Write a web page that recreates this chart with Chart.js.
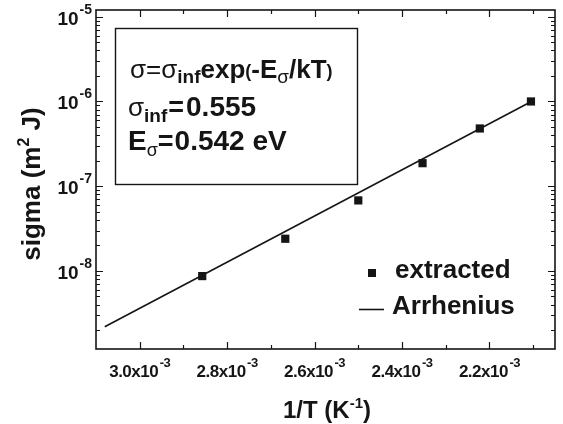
<!DOCTYPE html>
<html><head><meta charset="utf-8">
<script src="https://cdn.jsdelivr.net/npm/chart.js@4/dist/chart.umd.min.js"></script>
<style>html,body{margin:0;padding:0;background:#fff}#wrap{width:563px;height:424px}</style>
</head><body><div id="wrap"><canvas id="c" width="563" height="424"></canvas></div>
<script>
// ---- data ----
const invT = [2.857e-3, 2.667e-3, 2.500e-3, 2.353e-3, 2.222e-3, 2.105e-3];   // 1/T (K^-1)
const sigmaExtracted = [8.7e-9, 2.4e-8, 6.8e-8, 1.87e-7, 4.8e-7, 1.0e-6];   // sigma (m^2 J)
const arrheniusInvT = [3.08e-3, 2.105e-3];
const arrheniusSigma = [2.2e-9, 9.9e-7];
const xMajorTicks = [3.0e-3, 2.8e-3, 2.6e-3, 2.4e-3, 2.2e-3];
const xTickLabels = ['3.0x10', '2.8x10', '2.6x10', '2.4x10', '2.2x10'];
const xTickExp = ['-3', '-3', '-3', '-3', '-3'];
const yMajorTicks = [1e-8, 1e-7, 1e-6, 1e-5];
const yTickLabels = ['10', '10', '10', '10'];
const yTickExp = ['-8', '-7', '-6', '-5'];
const seriesNames = ['extracted', 'Arrhenius'];

const FONT = '"Liberation Sans", Arial, Helvetica, sans-serif';
const INK = '#151515';
function f(size, bold) { return (bold ? 'bold ' : '') + size + 'px ' + FONT; }
function richWidth(ctx, parts) {
  let w = 0;
  for (const p of parts) { ctx.font = p.font; w += ctx.measureText(p.t).width + (p.dx || 0); }
  return w;
}
function drawRich(ctx, parts, x, y, align) {
  const w = richWidth(ctx, parts);
  let cx = align === 'center' ? x - w / 2 : (align === 'right' ? x - w : x);
  ctx.textAlign = 'left';
  ctx.textBaseline = 'alphabetic';
  for (const p of parts) {
    ctx.font = p.font;
    cx += (p.dx || 0);
    ctx.fillText(p.t, cx, y + (p.dy || 0));
    cx += ctx.measureText(p.t).width;
  }
}

const decorPlugin = {
  id: 'decor',
  afterDraw(chart) {
    const ctx = chart.ctx, a = chart.chartArea;
    const xs = chart.scales.x, ys = chart.scales.y;
    ctx.save();
    ctx.strokeStyle = INK; ctx.fillStyle = INK;
    // frame
    ctx.lineWidth = 1.6;
    ctx.strokeRect(a.left, a.top, a.right - a.left, a.bottom - a.top);
    // ticks
    ctx.lineWidth = 1.2;
    const MAJ = 7, MIN = 4;
    ctx.beginPath();
    for (let k = 21; k <= 30; k++) {
      const v = k * 1e-4;
      const px = Math.round(xs.getPixelForValue(v)) + 0.5;
      const major = xMajorTicks.some(t => Math.abs(t - v) < 1e-9);
      const L = major ? MAJ : MIN;
      ctx.moveTo(px, a.bottom); ctx.lineTo(px, a.bottom - L);
      ctx.moveTo(px, a.top); ctx.lineTo(px, a.top + L);
    }
    for (let e = -9; e <= -5; e++) {
      for (let m = 1; m <= 9; m++) {
        const v = m * Math.pow(10, e);
        if (v < ys.min || v > ys.max) continue;
        const py = Math.round(ys.getPixelForValue(v)) + 0.5;
        const L = m === 1 ? MAJ : MIN;
        ctx.moveTo(a.left, py); ctx.lineTo(a.left + L, py);
        ctx.moveTo(a.right, py); ctx.lineTo(a.right - L, py);
      }
    }
    ctx.stroke();
    // x tick labels
    ctx.letterSpacing = '-0.5px';
    xMajorTicks.forEach((v, i) => {
      const px = xs.getPixelForValue(v);
      drawRich(ctx, [{ t: xTickLabels[i], font: f(17, true) }, { t: xTickExp[i], font: f(13, true), dy: -10, dx: 1.5 }], px, 377, 'center');
    });
    ctx.letterSpacing = '0px';
    // y tick labels
    yMajorTicks.forEach((v, i) => {
      const py = ys.getPixelForValue(v);
      drawRich(ctx, [{ t: yTickLabels[i], font: f(19, true) }, { t: yTickExp[i], font: f(14, true), dy: -11, dx: 1 }], 92, py + 8, 'right');
    });
    // axis titles
    drawRich(ctx, [{ t: '1/T (K', font: f(24, true) }, { t: '-1', font: f(15, true), dy: -10 }, { t: ')', font: f(24, true) }], 327, 418, 'center');
    ctx.save();
    ctx.translate(40, 184);
    ctx.rotate(-Math.PI / 2);
    drawRich(ctx, [{ t: 'sigma (m', font: f(26, true) }, { t: '2', font: f(16, true), dy: -11 }, { t: ' J)', font: f(26, true) }], 0, 0, 'center');
    ctx.restore();
    // annotation box
    ctx.lineWidth = 1.4;
    ctx.strokeRect(115.5, 28.5, 242, 156);
    drawRich(ctx, [
      { t: 'σ=σ', font: f(26, false) }, { t: 'inf', font: f(19, true), dy: 5 },
      { t: 'exp', font: f(26, true) }, { t: '(', font: f(18, true), dy: -1 },
      { t: '-E', font: f(26, true) }, { t: 'σ', font: f(19, false), dy: 5 },
      { t: '/kT', font: f(26, true) }, { t: ')', font: f(18, true), dy: -1 }
    ], 130, 78, 'left');
    drawRich(ctx, [
      { t: 'σ', font: f(26, false) }, { t: 'inf', font: f(19, true), dy: 6 },
      { t: '=', font: f(27, true), dx: 1 }, { t: '0.555', font: f(28, true), dx: 2 }
    ], 128, 116, 'left');
    drawRich(ctx, [
      { t: 'E', font: f(28, true) }, { t: 'σ', font: f(18, false), dy: 6 },
      { t: '=', font: f(27, true) }, { t: '0.542 eV', font: f(28, true), dx: 1 }
    ], 128, 150, 'left');
    // legend
    ctx.fillRect(368, 269, 8, 8);
    ctx.font = f(26, true); ctx.textAlign = 'left'; ctx.textBaseline = 'alphabetic';
    ctx.fillText(seriesNames[0], 395, 278);
    ctx.lineWidth = 1.6;
    ctx.beginPath(); ctx.moveTo(359, 309.5); ctx.lineTo(384, 309.5); ctx.stroke();
    ctx.fillText(seriesNames[1], 392, 314);
    ctx.restore();
  }
};

const hiddenAxis = { ticks: { display: false }, grid: { display: false, drawTicks: false }, border: { display: false }, title: { display: false } };

new Chart(document.getElementById('c'), {
  type: 'scatter',
  data: {
    datasets: [
      {
        label: seriesNames[0],
        data: invT.map((x, i) => ({ x, y: sigmaExtracted[i] })),
        pointStyle: 'rect', pointRadius: 5.8, pointHoverRadius: 5.8,
        backgroundColor: INK, borderColor: INK, borderWidth: 0, showLine: false
      },
      {
        label: seriesNames[1],
        data: arrheniusInvT.map((x, i) => ({ x, y: arrheniusSigma[i] })),
        showLine: true, pointRadius: 0, borderColor: INK, borderWidth: 1.6, fill: false
      }
    ]
  },
  options: {
    responsive: false, animation: false, devicePixelRatio: 1,
    layout: { padding: { left: 96, right: 8, top: 10, bottom: 75 } },
    plugins: { legend: { display: false }, tooltip: { enabled: false } },
    scales: {
      x: Object.assign({ type: 'linear', reverse: true, min: 2.05e-3, max: 3.1e-3 }, hiddenAxis),
      y: Object.assign({ type: 'logarithmic', min: 1.2e-9, max: 1.2e-5 }, hiddenAxis)
    }
  },
  plugins: [decorPlugin]
});
</script>
</body></html>
